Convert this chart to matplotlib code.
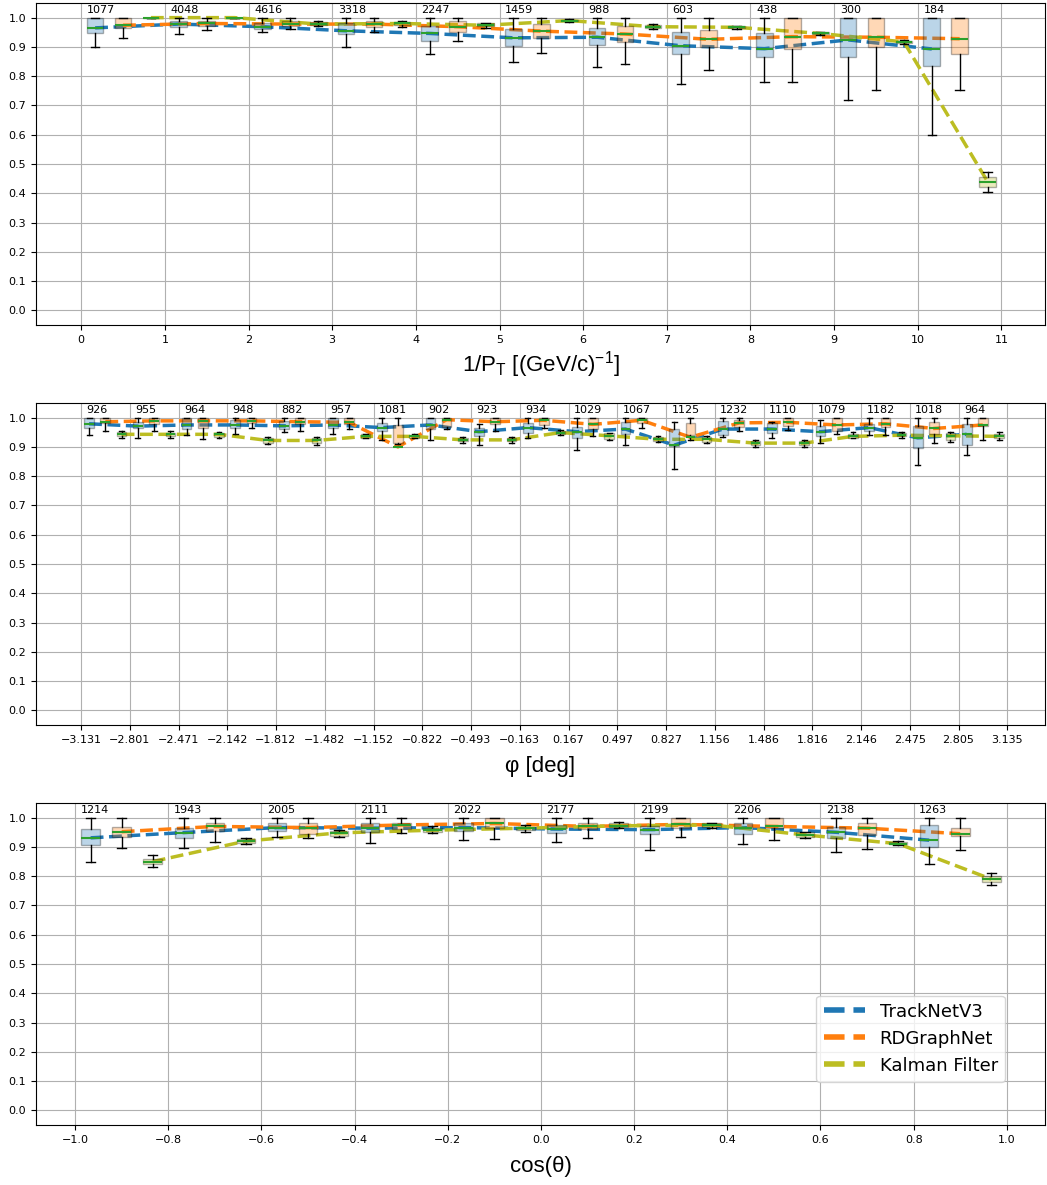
import matplotlib
matplotlib.use('Agg')
import matplotlib.pyplot as plt
from matplotlib.lines import Line2D
import numpy as np

plt.rcParams['mathtext.fontset'] = 'custom'
plt.rcParams['mathtext.rm'] = 'Liberation Sans'
plt.rcParams['mathtext.it'] = 'Liberation Sans:italic'

methods = ['TrackNetV3', 'RDGraphNet', 'Kalman Filter']
colors = ['tab:blue', 'tab:orange', 'tab:olive']

# each bin: (whislo, q1, med, q3, whishi)

# ---- 1/pT ----
pt_edges = [0, 1, 2, 3, 4, 5, 6, 7, 8, 9, 10, 11]
pt_counts = [1077, 4048, 4616, 3318, 2247, 1459, 988, 603, 438, 300, 184]
pt_trk = [(0.900, 0.949, 0.965, 1.000, 1.0), (0.945, 0.969, 0.978, 0.987, 1.0),
          (0.952, 0.962, 0.969, 0.980, 1.0), (0.900, 0.944, 0.955, 0.982, 1.0),
          (0.875, 0.919, 0.946, 0.971, 1.0), (0.848, 0.903, 0.931, 0.960, 1.0),
          (0.830, 0.906, 0.933, 0.966, 1.0), (0.775, 0.876, 0.904, 0.951, 1.0),
          (0.780, 0.864, 0.894, 0.946, 1.0), (0.718, 0.865, 0.924, 1.000, 1.0),
          (0.600, 0.834, 0.893, 1.000, 1.0)]
pt_rdg = [(0.929, 0.964, 0.974, 1.000, 1.0), (0.958, 0.972, 0.980, 0.990, 1.0),
          (0.960, 0.970, 0.978, 0.990, 1.0), (0.952, 0.969, 0.978, 0.987, 1.0),
          (0.920, 0.952, 0.969, 0.987, 1.0), (0.879, 0.929, 0.954, 0.978, 1.0),
          (0.840, 0.918, 0.944, 0.971, 1.0), (0.820, 0.901, 0.926, 0.957, 1.0),
          (0.780, 0.894, 0.935, 1.000, 1.0), (0.753, 0.898, 0.933, 1.000, 1.0),
          (0.753, 0.875, 0.928, 1.000, 1.0)]
pt_kal = [(1.000, 1.000, 1.000, 1.000, 1.000), (1.000, 1.000, 1.000, 1.000, 1.000),
          (0.970, 0.975, 0.978, 0.985, 0.990), (0.969, 0.975, 0.980, 0.985, 0.989),
          (0.966, 0.970, 0.974, 0.980, 0.982), (0.984, 0.987, 0.990, 0.993, 0.995),
          (0.960, 0.965, 0.969, 0.975, 0.978), (0.962, 0.965, 0.967, 0.970, 0.972),
          (0.940, 0.943, 0.946, 0.950, 0.952), (0.910, 0.914, 0.917, 0.921, 0.925),
          (0.404, 0.421, 0.440, 0.457, 0.473)]

# ---- phi ----
phi_edges = [-3.131, -2.801, -2.471, -2.142, -1.812, -1.482, -1.152, -0.822, -0.493, -0.163,
             0.167, 0.497, 0.827, 1.156, 1.486, 1.816, 2.146, 2.475, 2.805, 3.135]
phi_counts = [926, 955, 964, 948, 882, 957, 1081, 902, 923, 934,
              1029, 1067, 1125, 1232, 1110, 1079, 1182, 1018, 964]
phi_trk = [(0.939, 0.966, 0.979, 1.000, 1.0), (0.929, 0.963, 0.971, 0.984, 1.0),
           (0.940, 0.961, 0.975, 1.000, 1.0), (0.945, 0.966, 0.975, 0.993, 1.0),
           (0.950, 0.961, 0.972, 0.990, 1.0), (0.943, 0.966, 0.975, 1.000, 1.0),
           (0.924, 0.956, 0.966, 0.982, 1.0), (0.925, 0.961, 0.975, 1.000, 1.0),
           (0.906, 0.938, 0.952, 0.966, 0.979), (0.929, 0.949, 0.966, 0.982, 1.0),
           (0.891, 0.931, 0.952, 0.968, 1.0), (0.908, 0.943, 0.961, 0.984, 1.0),
           (0.825, 0.903, 0.906, 0.961, 0.986), (0.935, 0.940, 0.961, 0.990, 1.0),
           (0.931, 0.949, 0.961, 0.982, 0.986), (0.915, 0.936, 0.952, 0.970, 0.991),
           (0.940, 0.954, 0.966, 0.977, 1.0), (0.837, 0.897, 0.931, 0.972, 1.0),
           (0.874, 0.908, 0.943, 0.979, 1.0)]
phi_rdg = [(0.956, 0.982, 0.986, 1.000, 1.0), (0.954, 0.979, 0.989, 1.000, 1.0),
           (0.928, 0.966, 0.989, 1.000, 1.0), (0.966, 0.982, 0.989, 1.000, 1.0),
           (0.956, 0.977, 0.986, 1.000, 1.0), (0.961, 0.977, 0.984, 1.000, 1.0),
           (0.910, 0.915, 0.900, 0.974, 1.0), (0.962, 0.968, 0.993, 0.998, 1.0),
           (0.954, 0.977, 0.986, 1.000, 1.0), (0.966, 0.975, 0.991, 1.000, 1.0),
           (0.936, 0.961, 0.977, 1.000, 1.0), (0.963, 0.982, 0.991, 0.998, 1.0),
           (0.925, 0.940, 0.933, 0.982, 1.0), (0.956, 0.968, 0.982, 0.993, 1.0),
           (0.959, 0.972, 0.984, 1.000, 1.0), (0.943, 0.956, 0.975, 0.998, 1.0),
           (0.940, 0.968, 0.979, 0.998, 1.0), (0.915, 0.943, 0.963, 0.984, 1.0),
           (0.922, 0.970, 0.975, 1.000, 1.0)]
phi_kal = [(0.929, 0.936, 0.943, 0.952, 0.956), (0.931, 0.936, 0.943, 0.949, 0.954),
           (0.929, 0.935, 0.943, 0.949, 0.952), (0.910, 0.915, 0.922, 0.929, 0.933),
           (0.908, 0.915, 0.922, 0.929, 0.933), (0.929, 0.931, 0.936, 0.943, 0.945),
           (0.929, 0.931, 0.936, 0.941, 0.943), (0.913, 0.920, 0.924, 0.931, 0.933),
           (0.913, 0.920, 0.924, 0.930, 0.933), (0.940, 0.943, 0.949, 0.954, 0.959),
           (0.924, 0.926, 0.938, 0.947, 0.947), (0.917, 0.920, 0.926, 0.933, 0.938),
           (0.913, 0.917, 0.926, 0.933, 0.936), (0.901, 0.908, 0.913, 0.920, 0.924),
           (0.901, 0.906, 0.913, 0.920, 0.924), (0.931, 0.931, 0.936, 0.943, 0.952),
           (0.931, 0.936, 0.940, 0.947, 0.952), (0.917, 0.924, 0.938, 0.947, 0.952),
           (0.922, 0.931, 0.936, 0.943, 0.952)]

# ---- cos(theta) ----
cos_edges = [-1.0, -0.8, -0.6, -0.4, -0.2, 0.0, 0.2, 0.4, 0.6, 0.8, 1.0]
cos_counts = [1214, 1943, 2005, 2111, 2022, 2177, 2199, 2206, 2138, 1263]
cos_trk = [(0.850, 0.907, 0.931, 0.961, 1.0), (0.895, 0.932, 0.949, 0.966, 1.0),
           (0.934, 0.955, 0.966, 0.980, 1.0), (0.915, 0.950, 0.964, 0.982, 1.0),
           (0.925, 0.955, 0.966, 0.980, 1.0), (0.918, 0.948, 0.961, 0.975, 1.0),
           (0.891, 0.943, 0.959, 0.973, 1.0), (0.911, 0.945, 0.966, 0.982, 1.0),
           (0.882, 0.932, 0.950, 0.968, 1.0), (0.841, 0.898, 0.923, 0.975, 1.0)]
cos_rdg = [(0.895, 0.934, 0.952, 0.968, 1.0), (0.918, 0.955, 0.970, 0.982, 1.0),
           (0.930, 0.945, 0.966, 0.982, 1.0), (0.948, 0.961, 0.975, 0.982, 1.0),
           (0.927, 0.966, 0.980, 1.000, 1.0), (0.930, 0.961, 0.970, 0.982, 1.0),
           (0.934, 0.966, 0.977, 1.000, 1.0), (0.925, 0.966, 0.970, 0.998, 1.0),
           (0.893, 0.939, 0.964, 0.982, 1.0), (0.889, 0.936, 0.945, 0.966, 1.0)]
cos_kal = [(0.830, 0.841, 0.850, 0.859, 0.872), (0.909, 0.912, 0.920, 0.926, 0.932),
           (0.934, 0.938, 0.948, 0.955, 0.959), (0.948, 0.950, 0.957, 0.966, 0.970),
           (0.952, 0.957, 0.964, 0.968, 0.975), (0.966, 0.968, 0.972, 0.980, 0.984),
           (0.966, 0.968, 0.975, 0.980, 0.982), (0.932, 0.934, 0.941, 0.950, 0.952),
           (0.907, 0.910, 0.911, 0.916, 0.920), (0.770, 0.780, 0.790, 0.800, 0.811)]


def fmt(v, nd):
    return ('%.*f' % (nd, v)).replace('-', '\u2212')


def draw_panel(ax, edges, counts, series, xlabel, xlim, nd, labelpad=8):
    edges = np.asarray(edges, dtype=float)
    w = np.diff(edges)
    for k, rows in enumerate(series):
        pos = edges[:-1] + w * (k + 0.5) / 3
        stats = [dict(whislo=r[0], q1=r[1], med=r[2], q3=r[3], whishi=r[4]) for r in rows]
        ax.plot(pos, [s['med'] for s in stats], linestyle='--', color=colors[k],
                lw=2.5, zorder=2)
        ax.bxp(stats, positions=pos, widths=0.2 * w, patch_artist=True,
               showfliers=False, manage_ticks=False, zorder=3,
               boxprops=dict(facecolor=colors[k], alpha=0.3),
               medianprops=dict(color='tab:green', lw=1.5),
               whiskerprops=dict(color='black', lw=1),
               capprops=dict(color='black', lw=1))
    for i, n in enumerate(counts):
        ax.annotate(str(n), xy=(edges[i], 1.01), xytext=(4, 0), textcoords='offset points',
                    fontsize=8, ha='left', va='bottom')
    ax.set_xticks(edges)
    ax.set_xticklabels([fmt(v, nd) if nd > 0 else str(int(v)) for v in edges], fontsize=8)
    ax.set_yticks(np.arange(0, 1.01, 0.1))
    ax.set_yticklabels(['%.1f' % v for v in np.arange(0, 1.01, 0.1)], fontsize=8)
    ax.set_ylim(-0.05, 1.05)
    ax.set_xlim(*xlim)
    ax.grid(True, color='#b0b0b0', lw=0.8)
    ax.set_axisbelow(True)
    ax.set_xlabel(xlabel, fontsize=16, family='Liberation Sans', labelpad=labelpad)


fig = plt.figure(figsize=(10.47, 11.85), dpi=100)
left, width = 36 / 1047, 1009 / 1047
h = 322 / 1185
ax1 = fig.add_axes([left, 1 - 325 / 1185, width, h])
ax2 = fig.add_axes([left, 1 - 725 / 1185, width, h])
ax3 = fig.add_axes([left, 1 - 1125 / 1185, width, h])

draw_panel(ax1, pt_edges, pt_counts, [pt_trk, pt_rdg, pt_kal],
           r'1/P$_\mathrm{T}$ [(GeV/c)$^\mathrm{-1}$]', (-0.54, 11.52), 0, labelpad=3)
draw_panel(ax2, phi_edges, phi_counts, [phi_trk, phi_rdg, phi_kal],
           '\u03c6 [deg]', (-3.435, 3.39), 3)
draw_panel(ax3, cos_edges, cos_counts, [cos_trk, cos_rdg, cos_kal],
           'cos(\u03b8)', (-1.084, 1.082), 1)

handles = [Line2D([], [], color=c, lw=4, linestyle='--') for c in colors]
ax3.legend(handles, methods, loc='lower right',
           bbox_to_anchor=(1005 / 1047, 1 - 1082 / 1185),
           bbox_transform=fig.transFigure, borderaxespad=0, fontsize=13,
           handlelength=2.3)

fig.savefig('out.png', dpi=100)
